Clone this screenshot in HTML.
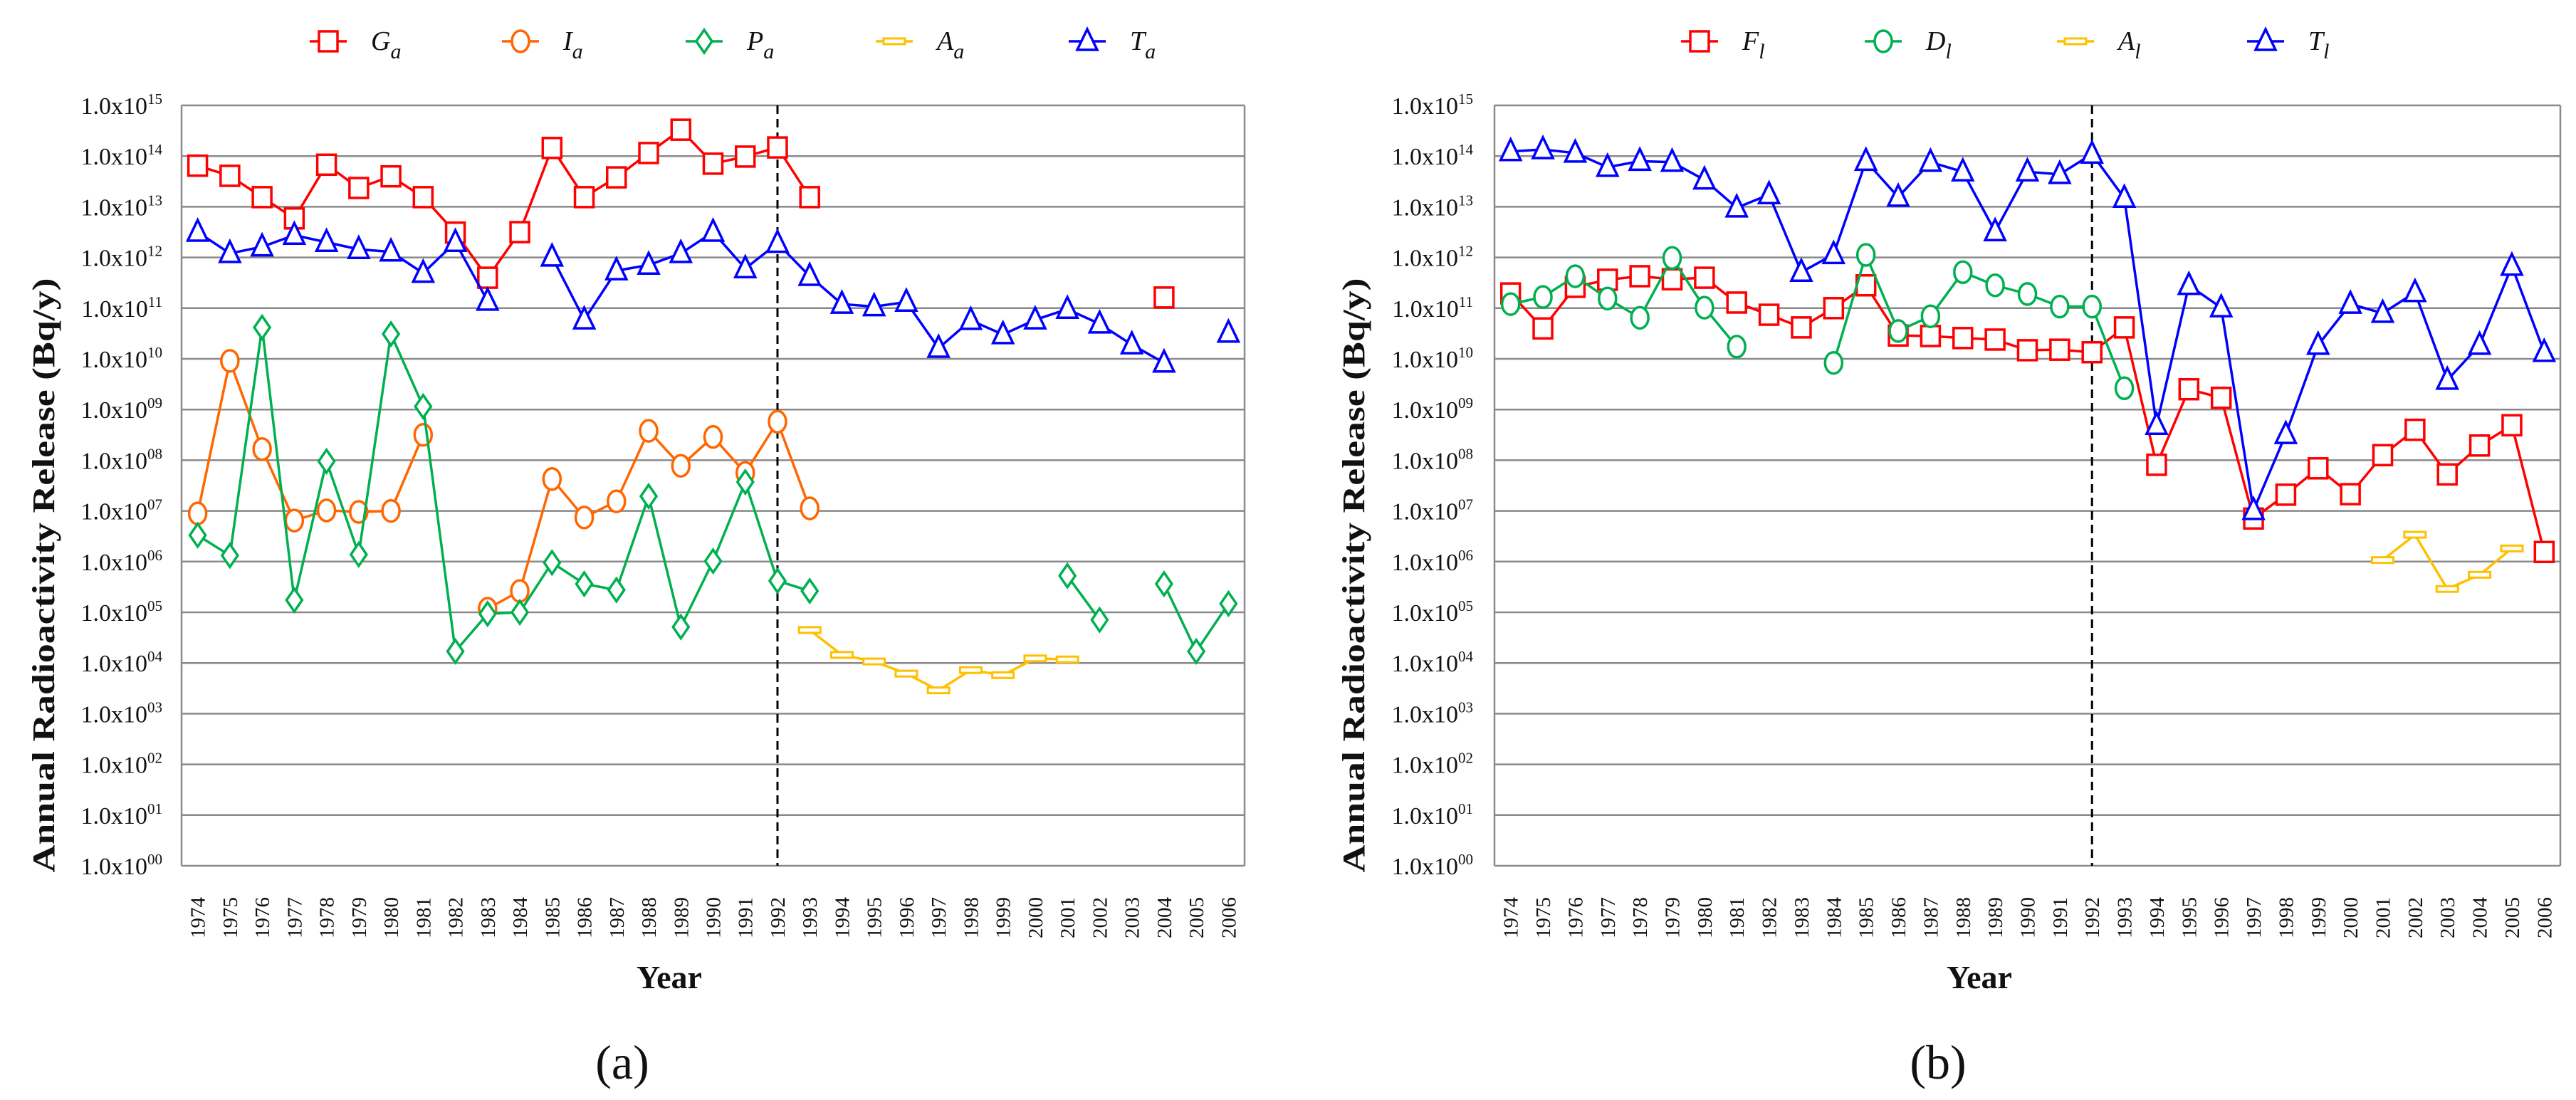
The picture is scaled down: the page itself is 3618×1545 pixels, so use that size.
<!DOCTYPE html>
<html><head><meta charset="utf-8"><style>
html,body{margin:0;padding:0;background:#fff;}
svg{display:block;}
text{font-family:"Liberation Serif",serif;}
</style></head><body>
<svg id="fig" width="3618" height="1545" viewBox="0 0 3618 1545" xmlns="http://www.w3.org/2000/svg"></svg>
<script>
// ---- data (log10 of Bq/y), null = no data ----
const years = [1974,1975,1976,1977,1978,1979,1980,1981,1982,1983,1984,1985,1986,1987,1988,1989,1990,1991,1992,1993,1994,1995,1996,1997,1998,1999,2000,2001,2002,2003,2004,2005,2006];
const yTickExps = [0,1,2,3,4,5,6,7,8,9,10,11,12,13,14,15];
const N = null;
// chart (a)
const gaLog = [13.81,13.61,13.19,12.77,13.83,13.37,13.60,13.19,12.49,11.60,12.50,14.16,13.19,13.58,14.06,14.52,13.85,13.99,14.17,13.19,N,N,N,N,N,N,N,N,N,N,11.21,N,N];
const iaLog = [6.95,9.96,8.22,6.81,7.01,6.98,7.00,8.50,N,5.07,5.42,7.63,6.87,7.19,8.58,7.89,8.46,7.75,8.76,7.05,N,N,N,N,N,N,N,N,N,N,N,N,N];
const paLog = [6.52,6.12,10.62,5.24,7.98,6.14,10.49,9.06,4.23,4.97,5.00,5.98,5.56,5.44,7.29,4.71,6.01,7.57,5.62,5.42,N,N,N,N,N,N,N,5.72,4.85,N,5.56,4.23,5.17];
const aaLog = [N,N,N,N,N,N,N,N,N,N,N,N,N,N,N,N,N,N,N,4.65,4.16,4.03,3.79,3.46,3.86,3.76,4.09,4.07,N,N,N,N,N];
const taLog = [12.50,12.08,12.21,12.44,12.30,12.16,12.11,11.69,12.30,11.14,N,12.01,10.77,11.74,11.85,12.08,12.50,11.78,12.28,11.63,11.08,11.03,11.12,10.21,10.76,10.48,10.77,10.98,10.69,10.28,9.92,N,10.51];
// chart (b)
const flLog = [11.29,10.60,11.42,11.56,11.63,11.57,11.60,11.11,10.87,10.62,11.00,11.45,10.46,10.45,10.41,10.38,10.17,10.18,10.13,10.62,7.91,9.40,9.23,6.85,7.32,7.84,7.33,8.10,8.60,7.72,8.29,8.69,6.19];
const dlLog = [11.08,11.22,11.63,11.19,10.81,11.99,11.01,10.24,N,N,9.92,12.05,10.55,10.84,11.71,11.45,11.28,11.03,11.03,9.42,N,N,N,N,N,N,N,N,N,N,N,N,N];
const alLog = [N,N,N,N,N,N,N,N,N,N,N,N,N,N,N,N,N,N,N,N,N,N,N,N,N,N,N,6.03,6.53,5.46,5.74,6.26,N];
const tlLog = [14.09,14.13,14.06,13.78,13.90,13.88,13.53,12.98,13.24,11.71,12.06,13.90,13.19,13.88,13.69,12.51,13.69,13.64,14.04,13.17,8.69,11.45,11.01,7.01,8.51,10.27,11.08,10.90,11.31,9.58,10.27,11.83,10.13];
const dividerYear = 1992;

const NS = "http://www.w3.org/2000/svg";
const svg = document.getElementById('fig');
function el(tag, attrs, parent, txt){
  const e = document.createElementNS(NS, tag);
  for (const k in attrs) e.setAttribute(k, attrs[k]);
  if (txt !== undefined) e.textContent = txt;
  (parent || svg).appendChild(e);
  return e;
}
function marker(g, type, cx, cy, color){
  let m;
  if (type === 'square') m = el('rect',{x:cx-13,y:cy-14,width:26,height:28,fill:'#fff',stroke:color,'stroke-width':3.5},g);
  else if (type === 'circle') m = el('ellipse',{cx:cx,cy:cy,rx:12,ry:15,fill:'#fff',stroke:color,'stroke-width':3.5},g);
  else if (type === 'diamond') m = el('polygon',{points:`${cx},${cy-16} ${cx+11},${cy} ${cx},${cy+16} ${cx-11},${cy}`,fill:'#fff',stroke:color,'stroke-width':3.5},g);
  else if (type === 'triangle') m = el('polygon',{points:`${cx},${cy-17} ${cx+14},${cy+12} ${cx-14},${cy+12}`,fill:'#fff',stroke:color,'stroke-width':3.5},g);
  else m = el('rect',{x:cx-15,y:cy-4,width:30,height:8,fill:'#fff',stroke:color,'stroke-width':3},g);
  return m;
}

function drawChart(cfg){
  const L = cfg.left, R = cfg.right, T = 148, B = 1216;
  const band = (R - L) / years.length;
  const xs = i => L + band * (i + 0.5);
  const ys = v => B - (v - 0) / 15 * (B - T);
  const root = el('g',{});
  
  
  const grid = el('g',{},root);
  
  
  yTickExps.forEach(e => {
    el('line',{x1:L,x2:R,y1:ys(e),y2:ys(e),stroke:'#8a8a8a','stroke-width':2.5},grid);
  });
  el('line',{x1:L,x2:L,y1:T,y2:B,stroke:'#8a8a8a','stroke-width':2.5},grid);
  el('line',{x1:R,x2:R,y1:T,y2:B,stroke:'#8a8a8a','stroke-width':2.5},grid);
  const yt = el('g',{},root);
  
  
  yTickExps.forEach(e => {
    const t = el('text',{x:cfg.tickRight,y:ys(e)+12,'text-anchor':'end','font-size':34,fill:'#111'},yt);
    
    
    el('tspan',{},t,'1.0x10');
    el('tspan',{dy:-14,'font-size':21},t,String(e).padStart(2,'0'));
  });
  const xt = el('g',{},root);
  
  
  years.forEach((yr,i) => {
    const x = xs(i) + 10, y = 1318;
    const t = el('text',{x:x,y:y,transform:`rotate(-90 ${x} ${y})`,'font-size':29,fill:'#111'},xt,String(yr));
    
    
  });
  const di = years.indexOf(dividerYear);
  const dl = el('line',{x1:xs(di),x2:xs(di),y1:T,y2:B,stroke:'#000','stroke-width':3,'stroke-dasharray':'12,7'},root);
  
  
  cfg.series.forEach(s => {
    const g = el('g',{},root);
    
    
    let seg = [];
    const segs = [];
    s.data.forEach((v,i) => {
      if (v === null) { if (seg.length) segs.push(seg); seg = []; }
      else seg.push([xs(i), ys(v)]);
    });
    if (seg.length) segs.push(seg);
    segs.forEach(sg => {
      if (sg.length > 1) {
        const p = el('polyline',{points:sg.map(p=>p.join(',')).join(' '),fill:'none',stroke:s.color,'stroke-width':3.5},g);
        
        
      }
    });
    s.data.forEach((v,i) => {
      if (v === null) return;
      const m = marker(g, s.marker, xs(i), ys(v), s.color);
      
      
    });
  });
  const lg = el('g',{},root);
  
  
  cfg.series.forEach((s,k) => {
    const lx = cfg.legendX[k], ly = 58;
    const e = el('g',{},lg);
    
    
    el('line',{x1:lx-26,x2:lx+26,y1:ly,y2:ly,stroke:s.color,'stroke-width':3.5},e);
    marker(e, s.marker, lx, ly, s.color);
    const t = el('text',{x:lx+60,y:ly+12,'font-size':38,'font-style':'italic',fill:'#111'},e);
    el('tspan',{},t,s.sym);
    el('tspan',{dy:12,'font-size':30},t,s.sub);
  });
  const ya = el('text',{x:cfg.yTitleX,y:808,transform:`rotate(-90 ${cfg.yTitleX} 808)`,'text-anchor':'middle','font-size':44,'font-weight':'bold',fill:'#111',textLength:835,lengthAdjust:'spacingAndGlyphs'},root,'Annual Radioactivity Release (Bq/y)');
  
  
  const xa = el('text',{x:cfg.yearX,y:1388,'text-anchor':'middle','font-size':46,'font-weight':'bold',fill:'#111'},root,'Year');
  
  
  const pl = el('text',{x:cfg.panelX,y:1515,'text-anchor':'middle','font-size':68,fill:'#111'},root,cfg.panel);
  
  
}

drawChart({name:'chart-a', left:255, right:1748, tickRight:228, yTitleX:76, panel:'(a)', yearX:940, panelX:874,
  legendX:[461,731,989,1256,1527],
  series:[
    {id:'ga', sym:'G', sub:'a', color:'#ff0000', marker:'square', data:gaLog},
    {id:'ia', sym:'I', sub:'a', color:'#ff6600', marker:'circle', data:iaLog},
    {id:'pa', sym:'P', sub:'a', color:'#00b050', marker:'diamond', data:paLog},
    {id:'aa', sym:'A', sub:'a', color:'#ffc000', marker:'dash', data:aaLog},
    {id:'ta', sym:'T', sub:'a', color:'#0000ff', marker:'triangle', data:taLog}
  ]});
drawChart({name:'chart-b', left:2099, right:3596, tickRight:2069, yTitleX:1916, panel:'(b)', yearX:2780, panelX:2722,
  legendX:[2387,2645,2915,3182],
  series:[
    {id:'fl', sym:'F', sub:'l', color:'#ff0000', marker:'square', data:flLog},
    {id:'dl', sym:'D', sub:'l', color:'#00b050', marker:'circle', data:dlLog},
    {id:'al', sym:'A', sub:'l', color:'#ffc000', marker:'dash', data:alLog},
    {id:'tl', sym:'T', sub:'l', color:'#0000ff', marker:'triangle', data:tlLog}
  ]});
</script>
</body></html>
